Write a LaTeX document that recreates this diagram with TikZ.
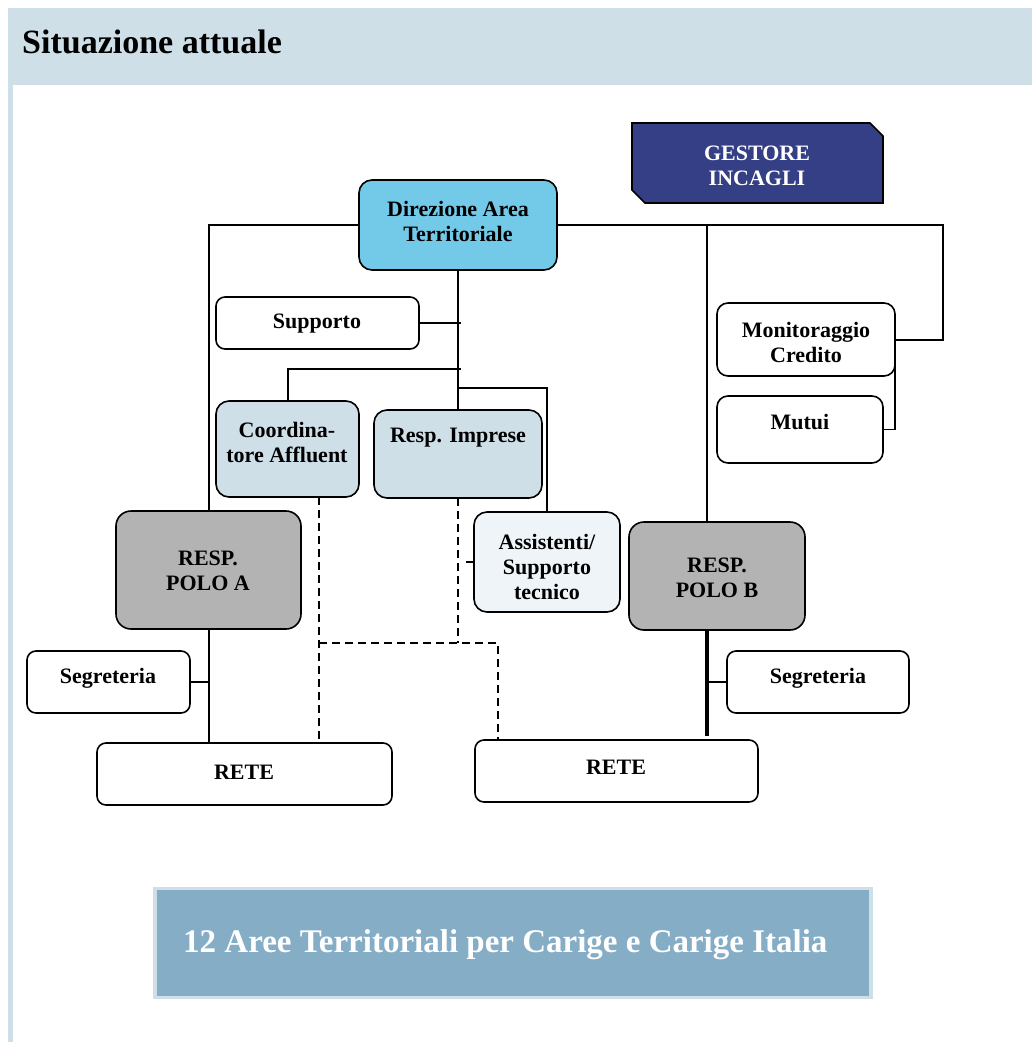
\documentclass[tikz,border=0pt]{standalone}
\usepackage{fontspec}
\setmainfont{Liberation Serif}
\definecolor{bandblue}{HTML}{CFDFE8}
\definecolor{gestblue}{HTML}{353F85}
\definecolor{direzblue}{HTML}{72C9E8}
\definecolor{lightbox}{HTML}{CFDFE8}
\definecolor{assistbox}{HTML}{EEF4F7}
\definecolor{polo}{HTML}{B3B3B3}
\definecolor{banner}{HTML}{86ADC6}
\begin{document}
\begin{tikzpicture}[x=1pt,y=-1pt,
  box/.style={draw=black, line width=1.6pt, rounded corners=9pt, inner sep=0pt, outer sep=0pt, anchor=north west},
  lbl/.style={font=\bfseries\fontsize{22}{25}\selectfont, align=center, inner sep=0pt},
  conn/.style={line width=2pt},
  thinconn/.style={line width=1.3pt},
  thickconn/.style={line width=3.5pt},
  dconn/.style={line width=1.6pt, dash pattern=on 8pt off 5pt}]
\useasboundingbox (0,0) rectangle (1032,1042);
\fill[white] (0,0) rectangle (1032,1042);
% header band and left strip
\fill[bandblue] (8,8) rectangle (1032,85);
\fill[bandblue] (8,85) rectangle (13,1042);
\node[anchor=base west, font=\bfseries\fontsize{34}{36}\selectfont, inner sep=0pt] (title) at (22,53) {Situazione attuale};

% Gestore incagli
\fill[gestblue, draw=black, line width=1.6pt] (632,123) -- (870,123) -- (883,136) -- (883,203) -- (645,203) -- (632,190) -- cycle;
\node[lbl, text=white] (gest) at (757,166) {GESTORE\\INCAGLI};

% boxes
\node[box, fill=direzblue, rounded corners=13pt, minimum width=198pt, minimum height=90pt] (dir) at (359,180) {};
\node[lbl] (dirt) at (458,221) {Direzione Area\\Territoriale};

\node[box, fill=white, minimum width=203pt, minimum height=52pt] (supp) at (216,297) {};
\node[lbl] (suppt) at (317,324) {Supporto};

\node[box, fill=lightbox, rounded corners=13pt, minimum width=143pt, minimum height=96pt] (coord) at (216,401) {};
\node[lbl] (coordt) at (287,442) {Coordina-\\tore Affluent};

\node[box, fill=lightbox, rounded corners=13pt, minimum width=168pt, minimum height=88pt] (resp) at (374,410) {};
\node[lbl] (respt) at (458,438) {Resp. Imprese};

\node[box, fill=assistbox, rounded corners=13pt, minimum width=146pt, minimum height=100pt] (assist) at (474,512) {};
\node[lbl] (assistt) at (547,567) {Assistenti/\\Supporto\\tecnico};

\node[box, fill=polo, rounded corners=15pt, minimum width=185pt, minimum height=118pt] (poloA) at (116,511) {};
\node[lbl] (poloAt) at (208,571) {RESP.\\POLO A};

\node[box, fill=polo, rounded corners=15pt, minimum width=176pt, minimum height=108pt] (poloB) at (629,522) {};
\node[lbl] (poloBt) at (717,578) {RESP.\\POLO B};

\node[box, fill=white, rounded corners=11pt, minimum width=178pt, minimum height=73pt] (monit) at (717,303) {};
\node[lbl] (monitt) at (806,342) {Monitoraggio\\Credito};

\node[box, fill=white, rounded corners=11pt, minimum width=166pt, minimum height=67pt] (mutui) at (717,396) {};
\node[lbl] (mutuit) at (800,422) {Mutui};

\node[box, fill=white, minimum width=163pt, minimum height=62pt] (segA) at (27,651) {};
\node[lbl] (segAt) at (108,678) {Segreteria};

\node[box, fill=white, minimum width=182pt, minimum height=62pt] (segB) at (727,651) {};
\node[lbl] (segBt) at (818,678) {Segreteria};

\node[box, fill=white, minimum width=295pt, minimum height=62pt] (reteA) at (97,743) {};
\node[lbl] (reteAt) at (244,772) {RETE};

\node[box, fill=white, minimum width=283pt, minimum height=62pt] (reteB) at (475,740) {};
\node[lbl] (reteBt) at (616,767) {RETE};

% helper coordinates
\coordinate (rc) at (943,225);
\coordinate (pb) at (707,225);
\coordinate (sj) at (461,323);
\coordinate (cj) at (461,369);
\coordinate (aj) at (459,388);
\coordinate (pbend) at (707,736);
\coordinate (dl) at (319,643);
\coordinate (dm) at (458,643);
\coordinate (dr) at (498,643);

% solid connectors
\draw[conn] (dir.west) -| (poloA.north);
\draw[conn] (dir.east) -- (rc) |- (monit.east);
\draw[conn] (pb) -- (pb |- poloB.north);
\draw[conn] (dir.south) -- (resp.north);
\draw[conn] (supp.east) -- (sj);
\draw[conn] (cj) -| (coord.north);
\draw[thinconn] (aj) -| (assist.north);
\draw[thinconn] (monit.east) |- (mutui.east);
\draw[conn] (poloA.south) -- (poloA.south |- reteA.north);
\draw[thinconn] (segA.east) -- (segA.east -| poloA.south);
\draw[thickconn] (pb |- poloB.south) -- (pbend);
\draw[conn] (segB.west) -- (segB.west -| pb);
\draw[conn] (assist.west) -- ++(-8,0);

% dashed connectors
\draw[dconn] (coord.south -| dl) -- (dl |- reteA.north);
\draw[dconn] (resp.south) -- (dm);
\draw[dconn] (dl) -- (dr) -- (dr |- reteB.north);

% bottom banner
\fill[bandblue] (153,887) rectangle (873,999);
\fill[banner] (157,890) rectangle (869,996);
\node[anchor=base west, text=white, font=\bfseries\fontsize{33}{35}\selectfont, inner sep=0pt] (bannert) at (183,952) {12 Aree Territoriali per Carige e Carige Italia};
\end{tikzpicture}
\end{document}
